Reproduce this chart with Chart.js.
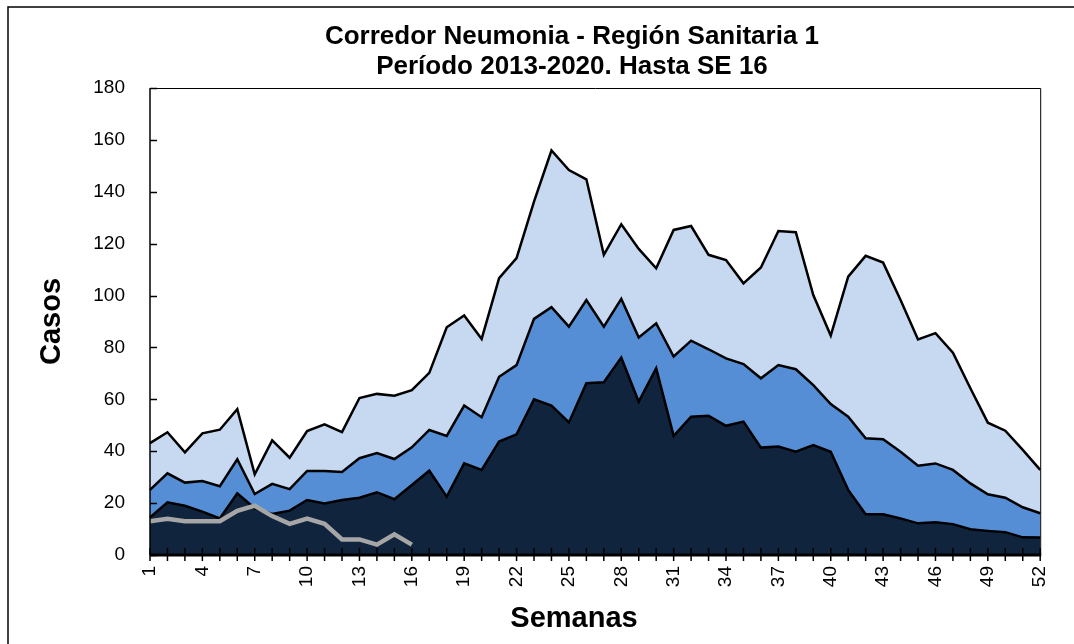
<!DOCTYPE html>
<html><head><meta charset="utf-8">
<script src="https://cdn.jsdelivr.net/npm/chart.js@4"></script>
<style>html,body{margin:0;padding:0;background:#fff}#wrap{width:1074px;height:644px;position:relative}</style>
</head><body><div id="wrap"><canvas id="c"></canvas></div>
<script>
const semanas = ['1','2','3','4','5','6','7','8','9','10','11','12','13','14','15','16','17','18','19','20','21','22','23','24','25','26','27','28','29','30','31','32','33','34','35','36','37','38','39','40','41','42','43','44','45','46','47','48','49','50','51','52'];
const etiquetasX = ['1','4','7','10','13','16','19','22','25','28','31','34','37','40','43','46','49','52'];
const ticksY = [0,20,40,60,80,100,120,140,160,180];

const exito = [14.5,20.3,19.0,16.7,14.1,23.8,18.0,15.8,17.1,21.2,19.9,21.2,22.1,24.2,21.5,27.0,32.5,22.5,35.3,32.8,43.7,46.5,60.0,57.6,51.1,66.2,66.6,76.1,59.1,72.0,45.9,53.3,53.7,49.8,51.4,41.4,41.8,39.8,42.4,39.8,25.1,15.7,15.7,14.1,12.2,12.6,11.9,9.9,9.3,8.8,6.8,6.7];
const seguridad = [25.1,31.5,27.9,28.5,26.5,36.9,23.5,27.4,25.4,32.4,32.4,32.0,37.3,39.3,37.0,41.5,48.2,45.9,57.6,53.1,68.7,73.2,91.0,95.5,88.0,98.3,88.0,98.7,83.8,89.3,76.5,82.6,79.3,75.8,73.6,68.1,73.2,71.6,65.5,58.2,53.3,45.0,44.6,39.8,34.4,35.3,32.8,27.6,23.4,22.1,18.4,16.1];
const alerta = [43.1,47.3,39.6,46.9,48.3,56.2,31.1,44.2,37.5,47.8,50.4,47.4,60.5,62.1,61.4,63.5,70.2,87.8,92.3,83.3,106.7,114.4,136.2,155.9,148.4,144.8,115.7,127.5,118.0,110.5,125.3,126.8,115.7,113.7,104.7,110.8,124.9,124.4,100.2,84.6,107.3,115.3,112.7,98.3,83.1,85.5,78.0,64.3,51.0,47.9,40.5,32.8];
const casos2020 = [13,14,13,13,13,17,19,15,12,14,12,6,6,4,8,4];

const titulo = ['Corredor Neumonia - Región Sanitaria 1','Período 2013-2020. Hasta SE 16'];
const tituloX = 'Semanas';
const tituloY = 'Casos';

const FONT = "'Liberation Sans', Arial, sans-serif";

const decor = {
  id: 'decor',
  beforeDraw(chart) {
    const ctx = chart.ctx;
    ctx.save();
    ctx.fillStyle = '#fff';
    ctx.fillRect(0, 0, chart.width, chart.height);
    ctx.strokeStyle = '#000';
    ctx.lineWidth = 1.5;
    ctx.strokeRect(8, 7, 1200, 800);
    ctx.restore();
  },
  afterDatasetsDraw(chart) {
    const ctx = chart.ctx;
    const a = chart.chartArea;
    const xs = chart.scales.x, ys = chart.scales.y;
    ctx.save();
    ctx.strokeStyle = '#000';
    // plot border top/right
    ctx.lineWidth = 1;
    ctx.beginPath();
    ctx.moveTo(a.left, a.top + 0.5);
    ctx.lineTo(a.right + 0.5, a.top + 0.5);
    ctx.lineTo(a.right + 0.5, a.bottom);
    ctx.stroke();
    // y axis
    ctx.lineWidth = 1.5;
    ctx.beginPath();
    ctx.moveTo(a.left, a.top);
    ctx.lineTo(a.left, a.bottom);
    ctx.stroke();
    // y ticks inward
    ticksY.forEach(v => {
      const y = Math.round(ys.getPixelForValue(v)) + 0.5;
      ctx.beginPath();
      ctx.moveTo(a.left, y);
      ctx.lineTo(a.left + 7, y);
      ctx.stroke();
    });
    // x ticks crossing
    ctx.lineWidth = 1.5;
    semanas.forEach((s, i) => {
      const x = xs.getPixelForValue(i);
      ctx.beginPath();
      ctx.moveTo(x, a.bottom - 7);
      ctx.lineTo(x, a.bottom + 6);
      ctx.stroke();
    });
    // x axis
    ctx.lineWidth = 3;
    ctx.beginPath();
    ctx.moveTo(a.left, a.bottom);
    ctx.lineTo(a.right + 1, a.bottom);
    ctx.stroke();
    ctx.restore();
  },
  afterDraw(chart) {
    const ctx = chart.ctx;
    ctx.save();
    ctx.fillStyle = '#000';
    ctx.textAlign = 'center';
    ctx.textBaseline = 'middle';
    ctx.font = 'bold 26px ' + FONT;
    ctx.fillText(titulo[0], 572, 37);
    ctx.fillText(titulo[1], 572, 67);
    ctx.font = 'bold 29px ' + FONT;
    ctx.fillText(tituloX, 574, 619);
    ctx.restore();
  }
};

new Chart(document.getElementById('c'), {
  type: 'line',
  data: {
    labels: semanas,
    datasets: [
      { label: '2020', data: casos2020, borderColor: '#A6A6A6', borderWidth: 4.5, fill: false, pointRadius: 0, tension: 0 },
      { label: 'Zona de éxito', data: exito, borderColor: '#000', backgroundColor: '#10243E', borderWidth: 2.5, fill: 'origin', pointRadius: 0, tension: 0 },
      { label: 'Zona de seguridad', data: seguridad, borderColor: '#000', backgroundColor: '#558ED5', borderWidth: 2.5, fill: 'origin', pointRadius: 0, tension: 0 },
      { label: 'Zona de alerta', data: alerta, borderColor: '#000', backgroundColor: '#C6D9F1', borderWidth: 2.5, fill: 'origin', pointRadius: 0, tension: 0 }
    ]
  },
  options: {
    responsive: true,
    maintainAspectRatio: false,
    animation: false,
    devicePixelRatio: 1,
    layout: { padding: { left: 0, right: 32, top: 88, bottom: 0 } },
    plugins: { legend: { display: false }, tooltip: { enabled: false }, title: { display: false } },
    scales: {
      x: {
        type: 'category',
        offset: false,
        grid: { display: false, drawTicks: false },
        border: { display: false },
        ticks: {
          autoSkip: false, maxRotation: 90, minRotation: 90, padding: 11,
          color: '#000', font: { family: FONT, size: 19 },
          callback: function(v, i) { const l = semanas[i]; return etiquetasX.includes(l) ? l : ''; }
        },
        afterFit(s) { s.height = 89; }
      },
      y: {
        min: 0, max: 180,
        grid: { display: false, drawTicks: false },
        border: { display: false },
        ticks: { stepSize: 20, padding: 25, color: '#000', font: { family: FONT, size: 19 } },
        title: { display: true, text: tituloY, color: '#000', font: { family: FONT, size: 29, weight: 'bold' }, padding: { top: 35, bottom: 0 } },
        afterFit(s) { s.width = 150; }
      }
    }
  },
  plugins: [decor]
});
</script>
</body></html>
